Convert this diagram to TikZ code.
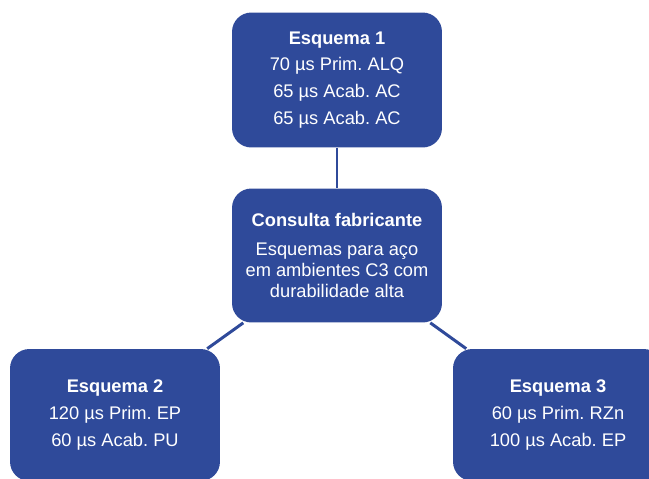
\documentclass[tikz,border=0pt]{standalone}
\usepackage{fontspec}
\setmainfont{Liberation Sans}
\usepackage{tikz}
\usetikzlibrary{positioning}
\frenchspacing
\definecolor{boxCol}{HTML}{2F4A9A}
\newcommand{\boxfont}{\fontsize{10.4}{11.9}\selectfont}
\tikzset{
  esq/.style={draw=none, fill=boxCol, rounded corners=11pt, minimum width=4.2cm,
              minimum height=#1, font=\boxfont, text=white, align=center, inner sep=2pt},
  link/.style={draw=boxCol, line width=1.7pt},
}
\begin{document}
\begin{tikzpicture}[x=0.02cm, y=-0.02cm]
  \useasboundingbox (0,0) rectangle (649,478);
  \node[esq=2.7cm] (e1) at (337,80) {\textbf{Esquema 1}\\[3.4pt]70 µs Prim. ALQ\\[3.4pt]65 µs Acab. AC\\[3.4pt]65 µs Acab. AC};
  \node[esq=2.68cm] (fab) at (337,255.5) {\textbf{Consulta fabricante}\\[4.2pt]Esquemas para aço\\em ambientes C3 com\\durabilidade alta};
  \node[esq=2.64cm] (e2) at (115,415) {\textbf{Esquema 2}\\[3.4pt]120 µs Prim. EP\\[3.4pt]60 µs Acab. PU};
  \node[esq=2.64cm] (e3) at (558,415) {\textbf{Esquema 3}\\[3.4pt]60 µs Prim. RZn\\[3.4pt]100 µs Acab. EP};

  \draw[link] (e1) -- (fab);
  \draw[link] (fab) -- (e2);
  \draw[link] (fab) -- (e3);
\end{tikzpicture}
\end{document}
